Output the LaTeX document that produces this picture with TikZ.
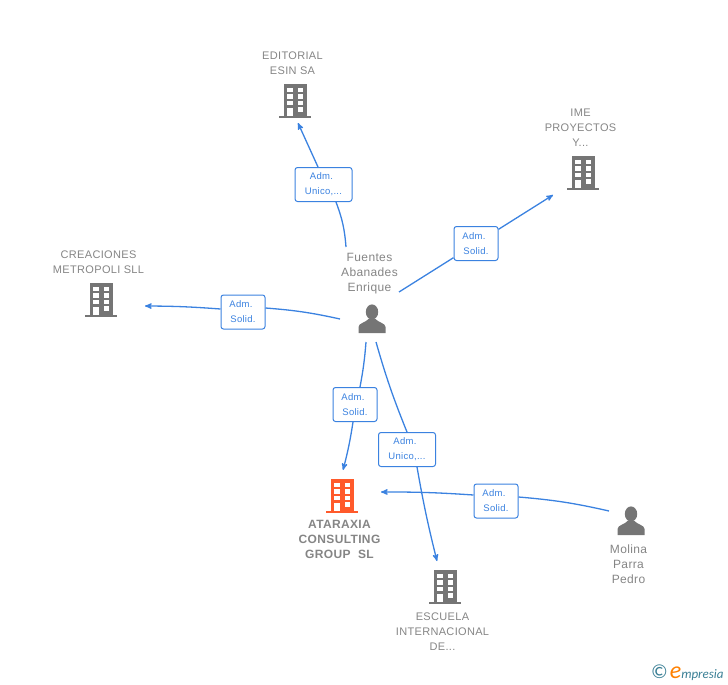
\documentclass[tikz,border=0pt]{standalone}
\usepackage{fontspec}
\setmainfont[LetterSpace=3]{Liberation Sans}
\newfontfamily\logofont{Carlito}
\usetikzlibrary{arrows,positioning}

\definecolor{linkblue}{HTML}{3B82E0}
\definecolor{icongrey}{HTML}{757575}
\definecolor{textgrey}{HTML}{858585}
\definecolor{hotorange}{HTML}{FF5A2B}
\definecolor{logoteal}{HTML}{3A7F95}

\newcommand{\buildingshape}[1]{%
  \begin{scope}[shift={(path picture bounding box.center)}]
    \fill[#1] (-11.5,-17) rectangle (11.5,15);
    \fill[#1] (-16,15) rectangle (16,17);
    \foreach \rowy in {-13.5,-7,-0.5}
      \foreach \colx in {-8,2.5}
        \fill[white] (\colx,\rowy) rectangle ++(5.5,4.5);
    \fill[white] (2.5,6) rectangle ++(5.5,4.5);
    \fill[white] (-8,6.5) rectangle ++(5.5,8.5);
  \end{scope}}
\newcommand{\personshape}[1]{%
  \begin{scope}[shift={(path picture bounding box.center)}]
    \fill[#1] (0,-7) ellipse (6.2 and 7.6);
    \fill[#1] (-13.5,14) -- (-13.5,8) .. controls (-13.5,4) and (-6,3.5) .. (-3.5,0)
      -- (3.5,0) .. controls (6,3.5) and (13.5,4) .. (13.5,8) -- (13.5,14) -- cycle;
  \end{scope}}
\newcommand{\admline}{\mbox{Adm.\hspace{4pt}}}

\begin{document}
\begin{tikzpicture}[x=1pt,y=-1pt,>=stealth',thick,
  link/.style={linkblue,line width=1.3pt},
  main label/.style={text=textgrey,align=center,inner sep=0pt,xshift=-2.5pt,
  font=\fontsize{11}{15}\selectfont},
  role box/.style={draw=linkblue,fill=white,rounded corners=2.5pt,line width=1pt,
  text=linkblue,align=center,inner sep=0pt,minimum height=34pt,
  font=\fontsize{9.5}{15}\selectfont},
  building/.style={minimum size=36pt,inner sep=0pt,
  path picture={\buildingshape{#1}}},
  person/.style={minimum size=30pt,inner sep=0pt,
  path picture={\personshape{icongrey}}}]

  \useasboundingbox (0,0) rectangle (728,685);

  % companies and people
  \node[person] (Fuentes) at (372,319) {};
  \node[person] (Molina) at (631,521) {};
  \node[building=icongrey] (Esin) at (295,101) {};
  \node[building=icongrey] (Ime) at (583,173) {};
  \node[building=icongrey] (Metropoli) at (101,300) {};
  \node[building=hotorange] (Ataraxia) at (342,496) {};
  \node[building=icongrey] (Escuela) at (445,587) {};

  \node[main label,above=8pt of Esin] {EDITORIAL\\ESIN SA};
  \node[main label,above=8pt of Ime] {IME\\PROYECTOS\\Y...};
  \node[main label,above=8pt of Metropoli] {CREACIONES\\METROPOLI SLL};
  \node[main label,below=5.5pt of Ataraxia,font=\fontsize{12}{15}\selectfont\bfseries] {ATARAXIA\\CONSULTING\\GROUP\ \ SL};
  \node[main label,below=7pt of Escuela] {ESCUELA\\INTERNACIONAL\\DE...};
  \node[main label,above=9pt of Fuentes,font=\fontsize{12}{15}\selectfont] {Fuentes\\Abanades\\Enrique};
  \node[main label,below=8pt of Molina,font=\fontsize{12}{15}\selectfont] {Molina\\Parra\\Pedro};

  % role boxes
  \node[role box,minimum width=57pt] (RoleEsin) at (323.5,184.5) {\admline\\Unico,...};
  \node[role box,minimum width=44pt] (RoleIme) at (476,243.5) {\admline\\Solid.};
  \node[role box,minimum width=44pt] (RoleMetropoli) at (243,312) {\admline\\Solid.};
  \node[role box,minimum width=44pt] (RoleAtaraxia) at (355,404.5) {\admline\\Solid.};
  \node[role box,minimum width=57pt] (RoleEscuela) at (407,449.5) {\admline\\Unico,...};
  \node[role box,minimum width=44pt] (RoleMolina) at (496,501) {\admline\\Solid.};

  % free ends of the links
  \coordinate (FromEsin) at (346,247);
  \coordinate (ToEsin) at (298,123);
  \coordinate (FromIme) at (399,292);
  \coordinate (ToIme) at (553,195);
  \coordinate (FromMetropoli) at (340,319);
  \coordinate (ToMetropoli) at (145,306);
  \coordinate (FromAtaraxia) at (366,342);
  \coordinate (ToAtaraxia) at (343,470);
  \coordinate (FromEscuela) at (376,342);
  \coordinate (ToEscuela) at (437,561);
  \coordinate (FromMolina) at (609,511);
  \coordinate (ToMolina) at (381,492);

  \path[link]
    (FromEsin) edge [bend right=8] (RoleEsin.south -| 336,0)
    (RoleEsin.north -| 318,0) edge [->] (ToEsin)

    (FromIme) edge (RoleIme)
    (RoleIme) edge [->] (ToIme)

    (FromMetropoli) edge [bend right=4] (RoleMetropoli.east |- 0,308)
    (RoleMetropoli.west |- 0,309) edge [->,bend right=2] (ToMetropoli)

    (FromAtaraxia) edge [bend left=3] (RoleAtaraxia.north -| 360,0)
    (RoleAtaraxia.south -| 353,0) edge [->,bend left=3] (ToAtaraxia)

    (FromEscuela) edge [bend right=3] (RoleEscuela.north -| 407,0)
    (RoleEscuela.south -| 417,0) edge [->,bend right=2] (ToEscuela)

    (FromMolina) edge [bend right=4] (RoleMolina.east |- 0,497)
    (RoleMolina.west |- 0,495) edge [->,bend right=2] (ToMolina);

  \node[inner sep=0pt,anchor=east] (Logo) at (724,672.5)
    {\logofont\fontsize{20}{15}\selectfont\textcolor{logoteal}{©}\hspace{2pt}%
    \textcolor{orange}{\fontsize{24}{15}\selectfont\itshape e}%
    \textcolor{logoteal}{\fontsize{13}{15}\selectfont\itshape mpresia}};
\end{tikzpicture}
\end{document}
